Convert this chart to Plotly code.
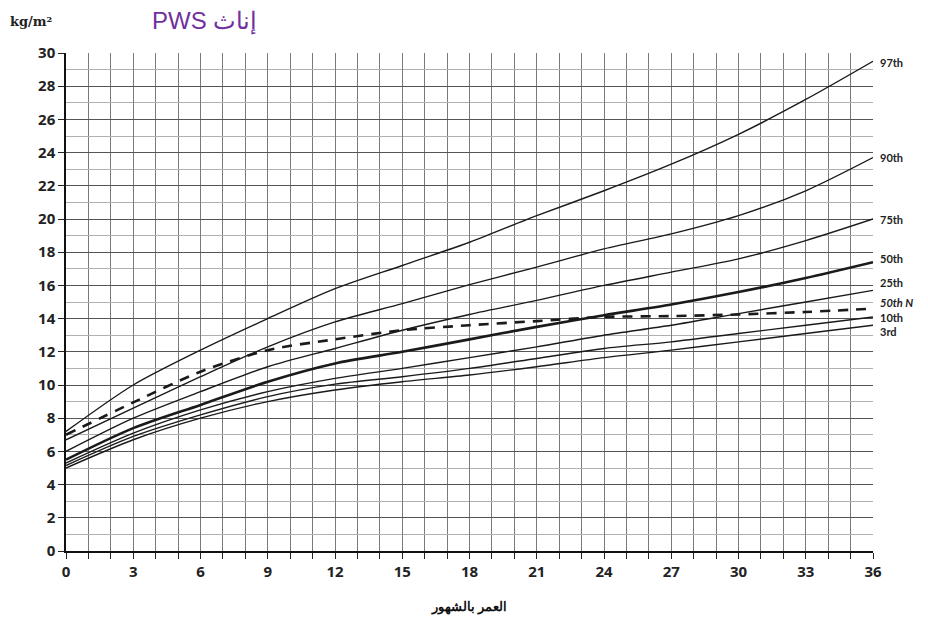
import plotly.graph_objects as go

months = [0, 3, 6, 9, 12, 15, 18, 21, 24, 27, 30, 33, 36]

p97 = [7.2, 10.0, 12.1, 14.0, 15.8, 17.2, 18.6, 20.2, 21.7, 23.3, 25.1, 27.2, 29.5]
p90 = [6.7, 8.6, 10.5, 12.3, 13.8, 14.9, 16.05, 17.1, 18.2, 19.1, 20.2, 21.7, 23.7]
p75 = [6.0, 8.0, 9.6, 11.1, 12.2, 13.3, 14.25, 15.1, 16.0, 16.8, 17.6, 18.7, 20.0]
p50 = [5.5, 7.4, 8.8, 10.2, 11.3, 12.0, 12.75, 13.5, 14.2, 14.85, 15.6, 16.45, 17.4]
p25 = [5.3, 7.1, 8.5, 9.6, 10.4, 11.0, 11.65, 12.3, 13.0, 13.6, 14.3, 15.0, 15.7]
p10 = [5.15, 6.9, 8.2, 9.3, 10.05, 10.5, 11.0, 11.6, 12.2, 12.6, 13.1, 13.6, 14.1]
p3 = [5.0, 6.7, 8.0, 9.0, 9.7, 10.2, 10.6, 11.1, 11.65, 12.1, 12.6, 13.1, 13.6]
p50_normal = [7.0, 8.95, 10.8, 12.1, 12.75, 13.3, 13.6, 13.85, 14.1, 14.15, 14.25, 14.4, 14.6]

curve_names = ["97th", "90th", "75th", "50th", "25th", "10th", "3rd"]
curve_values = [p97, p90, p75, p50, p25, p10, p3]
curve_widths = [1.4, 1.4, 1.4, 2.6, 1.4, 1.4, 1.4]

label_texts = ["97th", "90th", "75th", "50th", "25th", "<i>50th N</i>", "10th", "3rd"]
label_y = [29.4, 23.7, 20.0, 17.6, 16.15, 14.95, 14.05, 13.2]

x_ticks = list(range(0, 37, 3))
y_ticks = list(range(0, 31, 2))

fig = go.Figure()

for name, vals, w in zip(curve_names, curve_values, curve_widths):
    fig.add_trace(go.Scatter(
        x=months, y=vals, mode="lines", name=name,
        line=dict(color="#1a1a1a", width=w, shape="spline", smoothing=0.8),
        showlegend=False, hoverinfo="x+y+name"))

fig.add_trace(go.Scatter(
    x=months, y=p50_normal, mode="lines", name="50th N",
    line=dict(color="#1a1a1a", width=2.6, dash="10px,8px", shape="spline", smoothing=0.8),
    showlegend=False))

for txt, yv in zip(label_texts, label_y):
    fig.add_annotation(x=1, xref="paper", y=yv, yref="y", text=txt,
                       showarrow=False, xanchor="left", xshift=6, borderpad=0,
                       font=dict(family="Lato", size=11, color="#222", weight="bold"))

fig.add_annotation(x=0, xref="paper", y=1, yref="paper", text="kg/m²",
                   showarrow=False, xanchor="left", yanchor="bottom", xshift=-58, yshift=22,
                   font=dict(family="DejaVu Serif", size=13, color="#222", weight="bold"))

fig.add_annotation(x=0.104, xref="paper", y=1, yref="paper", text="PWS إناث",
                   showarrow=False, xanchor="left", yanchor="bottom", yshift=16,
                   font=dict(family="Liberation Sans, Arial", size=24, color="#7030A0"))

fig.update_layout(
    width=920, height=616,
    margin=dict(l=58, r=55, t=45, b=73),
    paper_bgcolor="white", plot_bgcolor="white",
    font=dict(family="Open Sans", size=14, color="#222"),
)

fig.update_xaxes(
    range=[0, 36], tickvals=x_ticks, ticktext=[str(t) for t in x_ticks],
    showgrid=True, gridcolor="#7a7a7a", gridwidth=1.3,
    ticks="outside", ticklen=6, tickcolor="#222", tickwidth=1.3,
    minor=dict(dtick=1, tick0=0, showgrid=True, gridcolor="#7a7a7a", gridwidth=1.3,
               ticks="outside", ticklen=6, tickcolor="#222", tickwidth=1.3),
    showline=True, linecolor="#111", linewidth=2, mirror=False,
    tickfont=dict(family="Open Sans", size=15, color="#222", weight="bold"),
    title=dict(text="العمر بالشهور", font=dict(family="Liberation Sans, Arial", size=13, color="#111", weight="bold"), standoff=22),
    zeroline=False, automargin=False,
)

fig.update_yaxes(
    range=[0, 30], tickvals=y_ticks,
    showgrid=True, gridcolor="#555555", gridwidth=1.4,
    ticks="outside", ticklen=6, tickcolor="#222", tickwidth=1.3,
    minor=dict(dtick=1, tick0=0, showgrid=True, gridcolor="#b0b0b0", gridwidth=1.2),
    showline=True, linecolor="#111", linewidth=1.5,
    tickfont=dict(family="Open Sans", size=15, color="#222", weight="bold"),
    zeroline=True, zerolinecolor="#111", zerolinewidth=2, automargin=False,
)

fig.write_html("out.html")
